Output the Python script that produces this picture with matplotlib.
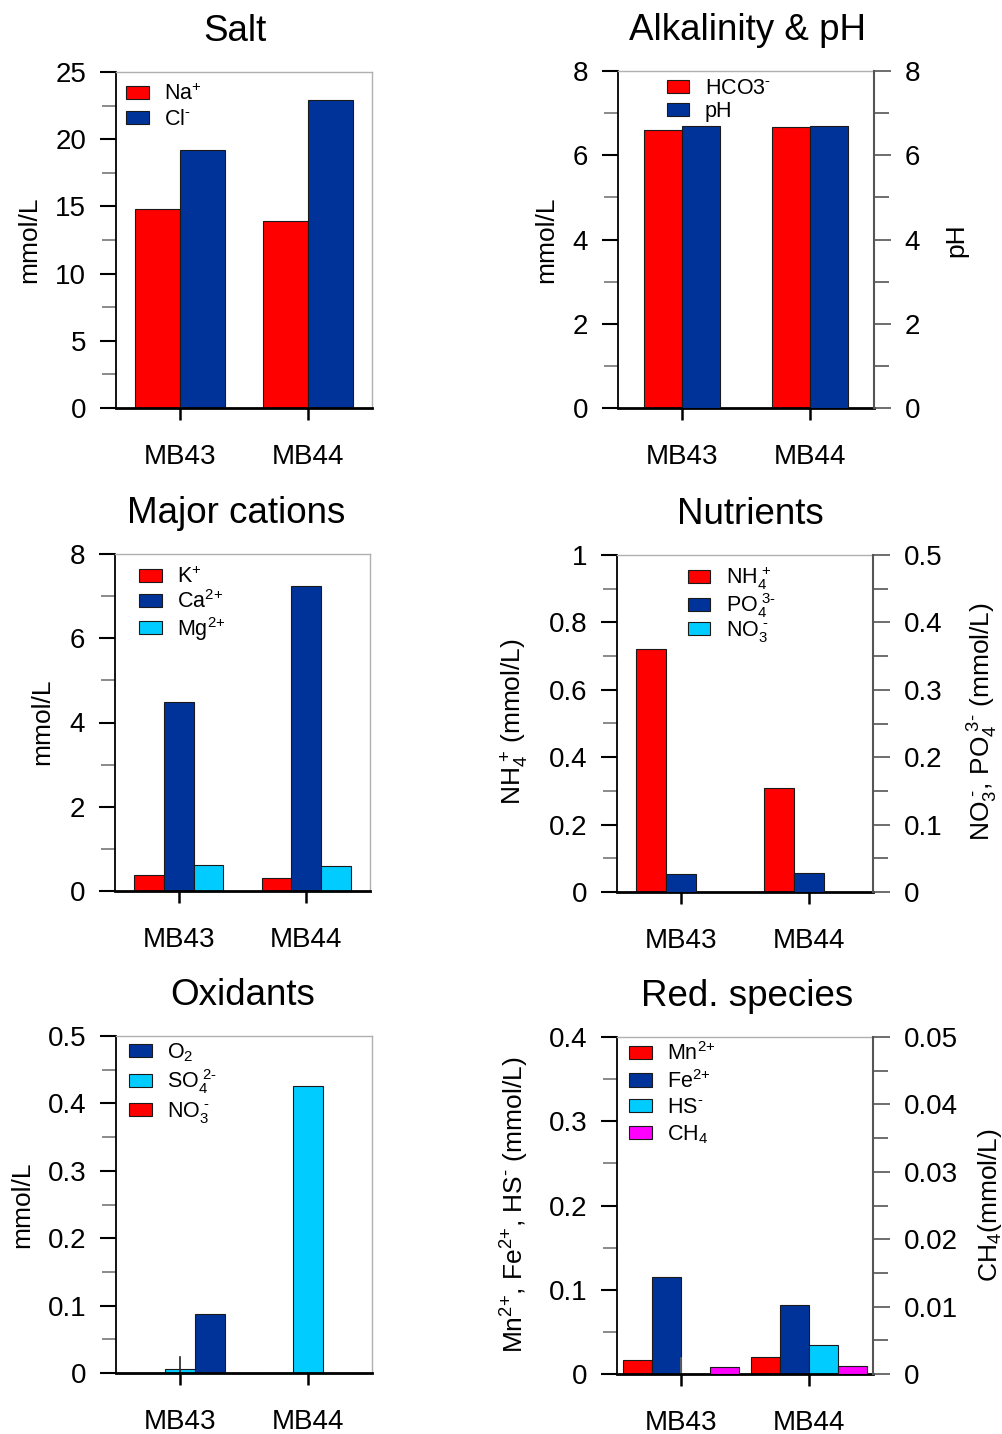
import matplotlib
matplotlib.use("Agg")
import matplotlib.pyplot as plt
from matplotlib.ticker import MultipleLocator, FuncFormatter
import numpy as np

plt.rcParams['font.family'] = ['Liberation Sans', 'DejaVu Sans']
plt.rcParams['mathtext.fontset'] = 'custom'
plt.rcParams['mathtext.rm'] = 'Liberation Sans'
plt.rcParams['mathtext.it'] = 'Liberation Sans:italic'
plt.rcParams['mathtext.bf'] = 'Liberation Sans:bold'

# ---------------- data ----------------
sites = ['MB43', 'MB44']

salt_na = [14.8, 13.9]
salt_cl = [19.2, 22.9]

alk_hco3 = [6.60, 6.66]
alk_ph = [6.69, 6.69]

cat_k = [0.37, 0.31]
cat_ca = [4.49, 7.24]
cat_mg = [0.61, 0.60]

nut_nh4 = [0.72, 0.31]
nut_po4 = [0.026, 0.028]
nut_no3 = [0.0, 0.0]

ox_o2 = [0.087, 0.0]
ox_so4 = [0.0065, 0.426]
ox_no3 = [0.0, 0.0]

red_mn = [0.0166, 0.0198]
red_fe = [0.115, 0.082]
red_hs = [0.0, 0.034]
red_ch4 = [0.0010, 0.00115]

RED = '#FF0000'
BLUE = '#003399'
CYAN = '#00CCFF'
MAG = '#FF00FF'

W, H = 1003, 1434
fig = plt.figure(figsize=(W / 100, H / 100), dpi=100)

def px_axes(l, r, t, b):
    return fig.add_axes([l / W, 1 - b / H, (r - l) / W, (b - t) / H])

x = np.arange(len(sites))
EDGE = dict(edgecolor='#1a1a1a', linewidth=0.8)
FMT = FuncFormatter(lambda v, p: '%g' % round(v, 6))

def style_left(ax, ymax, major, minor, twin=False):
    ax.set_xlim(-0.5, 1.5)
    ax.set_ylim(0, ymax)
    ax.yaxis.set_major_locator(MultipleLocator(major))
    ax.yaxis.set_minor_locator(MultipleLocator(minor))
    ax.yaxis.set_major_formatter(FMT)
    ax.set_xticks(x)
    ax.set_xticklabels(sites)
    ax.tick_params(axis='y', which='major', direction='out', length=11.5, width=1.5,
                   color='black', labelsize=20, pad=10)
    ax.tick_params(axis='y', which='minor', direction='out', length=10.3, width=1.2,
                   color='#777777')
    ax.tick_params(axis='x', which='major', direction='out', length=8.6, width=1.8,
                   color='black', labelsize=20, pad=17)
    ax.spines['left'].set_color('black')
    ax.spines['left'].set_linewidth(1.3)
    ax.spines['bottom'].set_color('black')
    ax.spines['bottom'].set_linewidth(2.0)
    ax.spines['top'].set_color('#b0b0b0')
    ax.spines['top'].set_linewidth(1.0)
    if twin:
        ax.spines['right'].set_visible(False)
    else:
        ax.spines['right'].set_color('#b0b0b0')
        ax.spines['right'].set_linewidth(1.0)

def style_right(ax2, ymax, major, minor):
    ax2.set_ylim(0, ymax)
    ax2.yaxis.set_major_locator(MultipleLocator(major))
    ax2.yaxis.set_minor_locator(MultipleLocator(minor))
    ax2.yaxis.set_major_formatter(FMT)
    ax2.tick_params(axis='y', which='major', direction='out', length=12, width=1.2,
                    color='#555555', labelsize=20, pad=10)
    ax2.tick_params(axis='y', which='minor', direction='out', length=10.8, width=1.2,
                    color='#555555')
    for s in ['left', 'top', 'bottom']:
        ax2.spines[s].set_visible(False)
    ax2.spines['right'].set_color('#555555')
    ax2.spines['right'].set_linewidth(1.5)

def legend(ax, handles, labels, xa, ya, spacing):
    lg = ax.legend(handles, labels, loc='upper left', bbox_to_anchor=(xa, ya),
                   frameon=False, fontsize=15.5, handlelength=1.06, handleheight=0.56,
                   handletextpad=0.72, labelspacing=spacing, borderpad=0,
                   borderaxespad=0)
    return lg

def title(ax, text, xf):
    ax.set_title(text, fontsize=26.5, pad=22, x=xf)

def ylab(xp, yp, text):
    fig.text(xp / W, 1 - yp / H, text, rotation=90, ha='center', va='center', fontsize=19)

M = r'\text{-}'
P = r'\text{+}'
P2 = r'\text{2+}'
M2 = r'\text{2-}'
M3 = r'\text{3-}'

# ---------------- Salt ----------------
ax = px_axes(116, 372, 72, 408)
w = 0.35
b1 = ax.bar(x - w / 2, salt_na, w, color=RED, **EDGE)
b2 = ax.bar(x + w / 2, salt_cl, w, color=BLUE, **EDGE)
style_left(ax, 25, 5, 2.5)
title(ax, 'Salt', 0.463)
legend(ax, [b1, b2], [r'$\mathregular{Na^{%s}}$' % P, r'$\mathregular{Cl^{%s}}$' % M],
       0.039, 0.965, 0.17)
ylab(29, 240, 'mmol/L')

# ---------------- Alkalinity & pH ----------------
ax = px_axes(618, 874, 71, 408)
ax2 = ax.twinx()
w = 0.3
b1 = ax.bar(x - w / 2, alk_hco3, w, color=RED, **EDGE)
b2 = ax2.bar(x + w / 2, alk_ph, w, color=BLUE, **EDGE)
style_left(ax, 8, 2, 1, twin=True)
style_right(ax2, 8, 2, 1)
title(ax, 'Alkalinity & pH', 0.504)
legend(ax2, [b1, b2], [r'$\mathregular{HCO3^{%s}}$' % M, 'pH'], 0.19, 0.98, 0.12)
ylab(546, 240, 'mmol/L')
ylab(956, 240, 'pH')

# ---------------- Major cations ----------------
ax = px_axes(115, 370, 554, 891)
w = 0.7 / 3
b1 = ax.bar(x - w, cat_k, w, color=RED, **EDGE)
b2 = ax.bar(x, cat_ca, w, color=BLUE, **EDGE)
b3 = ax.bar(x + w, cat_mg, w, color=CYAN, **EDGE)
style_left(ax, 8, 2, 1)
title(ax, 'Major cations', 0.476)
legend(ax, [b1, b2, b3], [r'$\mathregular{K^{%s}}$' % P, r'$\mathregular{Ca^{%s}}$' % P2,
                          r'$\mathregular{Mg^{%s}}$' % P2], 0.094, 0.962, 0.08)
ylab(42, 722, 'mmol/L')

# ---------------- Nutrients ----------------
ax = px_axes(617, 873, 555, 892)
ax2 = ax.twinx()
w = 0.7 / 3
b1 = ax.bar(x - w, nut_nh4, w, color=RED, **EDGE)
b2 = ax2.bar(x, nut_po4, w, color=BLUE, **EDGE)
b3 = ax2.bar(x + w, nut_no3, w, color=CYAN, **EDGE)
style_left(ax, 1, 0.2, 0.1, twin=True)
style_right(ax2, 0.5, 0.1, 0.05)
title(ax, 'Nutrients', 0.52)
legend(ax2, [b1, b2, b3], [r'$\mathregular{NH_4^{\ %s}}$' % P, r'$\mathregular{PO_4^{\ %s}}$' % M3,
                           r'$\mathregular{NO_3^{\ %s}}$' % M], 0.276, 0.972, -0.04)
ylab(515, 722, r'$\mathregular{NH_4^{\ %s}}$ (mmol/L)' % P)
ylab(983, 722, r'$\mathregular{NO_3^{\ %s}}$, $\mathregular{PO_4^{\ %s}}$ (mmol/L)' % (M, M3))

# ---------------- Oxidants ----------------
ax = px_axes(116, 372, 1036, 1373)
w = 0.7 / 3
b3 = ax.bar(x - w, ox_no3, w, color=RED, **EDGE)
b2 = ax.bar(x, ox_so4, w, color=CYAN, **EDGE)
b1 = ax.bar(x + w, ox_o2, w, color=BLUE, **EDGE)
ax.axvline(x[0], ymin=0, ymax=0.048, color='#222222', lw=1.2)
style_left(ax, 0.5, 0.1, 0.05)
title(ax, 'Oxidants', 0.494)
legend(ax, [b1, b2, b3], [r'$\mathregular{O_2}$', r'$\mathregular{SO_4^{\ %s}}$' % M2,
                          r'$\mathregular{NO_3^{\ %s}}$' % M], 0.051, 0.985, 0.18)
ylab(22, 1205, 'mmol/L')

# ---------------- Red. species ----------------
ax = px_axes(617, 873, 1037, 1374)
ax2 = ax.twinx()
w = 0.225
b1 = ax.bar(x - 1.5 * w, red_mn, w, color=RED, **EDGE)
b2 = ax.bar(x - 0.5 * w, red_fe, w, color=BLUE, **EDGE)
b3 = ax.bar(x + 0.5 * w, red_hs, w, color=CYAN, **EDGE)
b4 = ax2.bar(x + 1.5 * w, red_ch4, w, color=MAG, **EDGE)
ax.axvline(x[0], ymin=0, ymax=0.048, color='#666666', lw=1.2)
style_left(ax, 0.4, 0.1, 0.05, twin=True)
style_right(ax2, 0.05, 0.01, 0.005)
title(ax, 'Red. species', 0.508)
legend(ax2, [b1, b2, b3, b4], [r'$\mathregular{Mn^{%s}}$' % P2, r'$\mathregular{Fe^{%s}}$' % P2,
                               r'$\mathregular{HS^{%s}}$' % M, r'$\mathregular{CH_4}$'],
       0.047, 0.985, 0.22)
ylab(515, 1205, r'$\mathregular{Mn^{%s}}$, $\mathregular{Fe^{%s}}$, $\mathregular{HS^{%s}}$ (mmol/L)'
     % (P2, P2, M))
ylab(990, 1205, r'$\mathregular{CH_4}$(mmol/L)')

fig.savefig('out.png', dpi=100)
